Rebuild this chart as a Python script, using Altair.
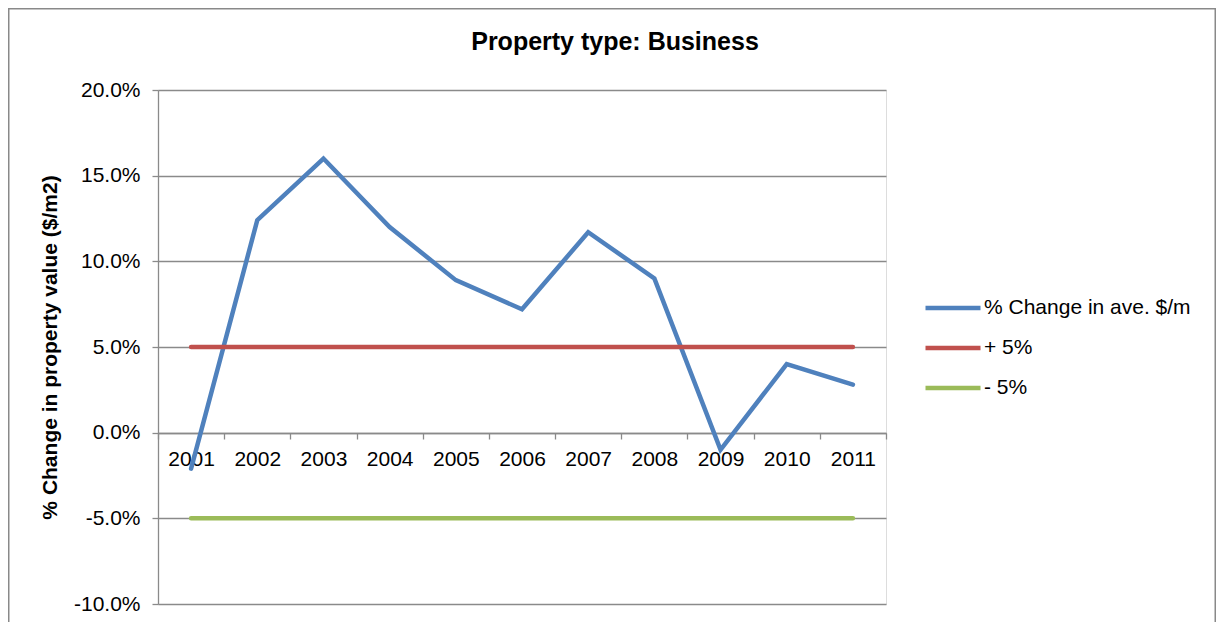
import altair as alt
import pandas as pd

years = [str(y) for y in range(2001, 2012)]
change = [-0.021, 0.124, 0.160, 0.120, 0.089, 0.072, 0.117, 0.090, -0.010, 0.040, 0.028]
upper = [0.05] * 11
lower = [-0.05] * 11
series_names = ["% Change in ave. $/m", "+ 5%", "- 5%"]
colors = ["#4F81BD", "#C0504D", "#9BBB59"]
y_ticks = [-0.10, -0.05, 0.0, 0.05, 0.10, 0.15, 0.20]

rows = []
for name, vals in zip(series_names, [change, upper, lower]):
    for yr, v in zip(years, vals):
        rows.append({"year": yr, "value": v, "series": name})
df = pd.DataFrame(rows)

GRID = "#8A8A8A"
FONT = "Liberation Sans"

x_enc = alt.X(
    "year:O",
    bandPosition=0.5,
    scale=alt.Scale(type="band", paddingInner=0, paddingOuter=0),
    axis=alt.Axis(
        orient="bottom", offset=-171, tickBand="extent", labelAngle=0, title=None,
        domainColor=GRID, domainWidth=1.3, tickColor=GRID, tickWidth=1.3, tickSize=6,
        labelFontSize=21, labelPadding=9, labelColor="black", labelFont=FONT, grid=False,
    ),
)
y_enc = alt.Y(
    "value:Q",
    scale=alt.Scale(domain=[-0.10, 0.20], nice=False, zero=False),
    axis=alt.Axis(
        values=y_ticks, format=".1%", labelExpr="replace(datum.label, '\u2212', '-')",
        grid=True, gridColor=GRID, gridWidth=1.3,
        domainColor=GRID, domainWidth=1.3, tickColor=GRID, tickWidth=1.3, tickSize=6,
        labelFontSize=21, labelPadding=12, labelColor="black", labelFont=FONT,
        title="% Change in property value ($/m2)", titleFontSize=21, titleFontWeight="bold",
        titleFont=FONT, titleColor="black",
        titleX=-108, titleY=257, titleAngle=-90, titleAlign="center", titleBaseline="middle",
    ),
)

lines = alt.Chart(df).mark_line(strokeWidth=4.5, strokeCap="round", strokeJoin="miter").encode(
    x=x_enc,
    y=y_enc,
    color=alt.Color(
        "series:N",
        scale=alt.Scale(domain=series_names, range=colors),
        sort=series_names,
        legend=alt.Legend(
            title=None, orient="none", legendX=765, legendY=188,
            symbolType="stroke", symbolSize=3025, symbolStrokeWidth=4.5,
            labelFontSize=21, labelFont=FONT, labelColor="black", labelOffset=1,
            rowPadding=0, padding=0, labelLimit=400,
        ),
    ),
)

frame = alt.Chart(pd.DataFrame({"a": [0]})).mark_rect(
    fill="transparent", stroke="#898989", strokeWidth=1.5
).encode(
    x=alt.value(-149.25), x2=alt.value(1057.25), y=alt.value(-81.25), y2=alt.value(560)
)

chart = alt.layer(frame, lines).properties(
    width=728,
    height=514,
    title=alt.TitleParams(
        "Property type: Business", fontSize=25, fontWeight="bold", font=FONT, color="black",
        anchor="middle", dx=93, offset=-67, baseline="alphabetic",
    ),
    autosize=alt.AutoSizeParams(type="none"),
    padding={"left": 150, "top": 82, "right": 330, "bottom": 18},
).configure_view(stroke=None).configure(font=FONT)

chart.save("out.html", embed_options={"renderer": "svg", "actions": False})
